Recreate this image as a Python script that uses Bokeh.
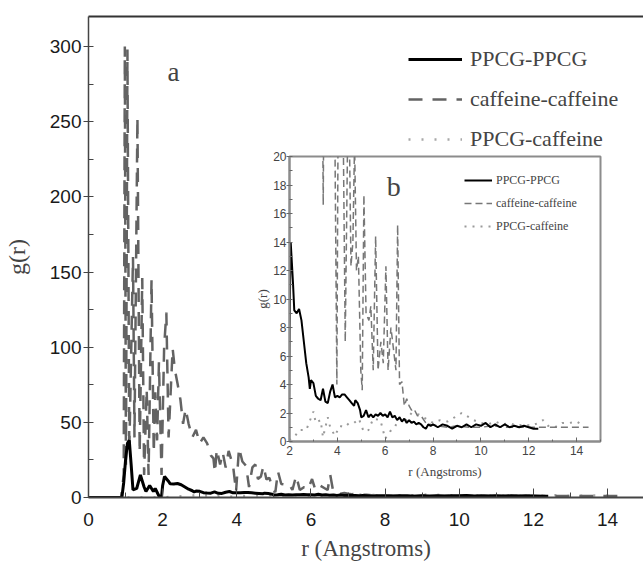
from bokeh.plotting import figure
from bokeh.layouts import column
from bokeh.models import (Range1d, Legend, LegendItem, Label, GridBox, LinearAxis,
                          FixedTicker, SingleIntervalTicker)
from bokeh.embed import file_html
from bokeh.resources import INLINE

# ---------------- data ----------------
r_pp = [0.0, 0.9, 0.95, 1.0, 1.05, 1.1, 1.15, 1.2, 1.3, 1.4, 1.5, 1.55, 1.65, 1.75, 1.8,
        1.9, 1.97, 2.0, 2.05, 2.1, 2.15, 2.2, 2.3, 2.4, 2.5, 2.6, 2.7, 2.8, 2.85, 2.9,
        3.0, 3.1, 3.2, 3.3, 3.4, 3.5, 3.6, 3.7, 3.8, 3.9, 4.0, 4.1, 4.2, 4.3, 4.4, 4.5,
        4.6, 4.7, 4.75, 4.85, 4.95, 5.0, 5.1, 5.2, 5.3, 5.4, 5.5, 5.6, 5.7, 5.8, 5.9,
        6.0, 6.1, 6.2, 6.3, 6.4, 6.5, 6.6, 6.7, 6.8, 6.9, 7.0, 7.1, 7.2, 7.3, 7.4, 7.5,
        7.6, 7.7, 7.8, 7.9, 8.0, 8.2, 8.4, 8.6, 8.8, 9.0, 9.2, 9.4, 9.6, 9.8, 10.0, 10.2,
        10.4, 10.6, 10.8, 11.0, 11.2, 11.4, 11.6, 11.8, 12.0, 12.2, 12.4]
g_pp = [0.0, 0.0, 10, 25, 36, 38, 22, 5, 6, 15, 7, 4, 8, 4, 6,
        1, 0.5, 8, 14, 12.5, 11, 9.2, 9.0, 9.3, 8.5, 7.0, 5.5, 4.5, 3.7, 4.3,
        4.1, 3.2, 3.0, 2.9, 3.7, 2.8, 2.7, 3.5, 4.0, 3.1, 3.2, 3.1, 3.3, 3.3, 3.1, 2.9,
        2.7, 2.5, 2.9, 2.7, 2.2, 1.7, 1.8, 2.2, 1.7, 1.9, 1.7, 1.9, 1.8, 2.0, 1.8,
        1.9, 1.7, 2.1, 1.7, 1.8, 1.5, 1.7, 1.4, 1.6, 1.3, 1.5, 1.3, 1.4, 1.2, 1.3, 1.2,
        1.0, 0.9, 1.2, 1.1, 1.2, 1.0, 1.2, 1.1, 0.9, 1.1, 1.0, 1.2, 1.0, 1.2, 1.1, 1.3,
        1.0, 1.2, 1.0, 1.2, 1.0, 1.1, 1.0, 1.1, 1.0, 0.9, 0.9]

r_cc = [0.0, 0.88, 0.95, 0.98, 1.01, 1.05, 1.1, 1.2, 1.24, 1.32, 1.38, 1.45, 1.5, 1.57,
        1.62, 1.7, 1.76, 1.8, 1.85, 1.9, 1.97, 2.04, 2.1, 2.16, 2.27, 2.33, 2.4, 2.48,
        2.55, 2.62, 2.7, 2.8, 2.9, 3.0, 3.1, 3.2, 3.3, 3.37, 3.41, 3.46, 3.55, 3.62, 3.7,
        3.78, 3.9, 3.98, 4.06, 4.15, 4.25, 4.33, 4.42, 4.5, 4.57, 4.65, 4.72, 4.8, 4.88,
        4.98, 5.04, 5.11, 5.2, 5.32, 5.4, 5.5, 5.6, 5.7, 5.82, 5.92, 6.03, 6.12, 6.24,
        6.38, 6.45, 6.52, 6.6, 6.7, 6.8, 6.9, 7.0, 7.1, 7.2, 7.35, 7.5, 7.7, 7.9, 8.2,
        8.6, 9.0, 9.5, 10.0, 10.5, 11.0, 11.5, 12.0, 12.5, 13.0, 13.5, 14.0, 14.5]
g_cc = [0.0, 0.0, 15, 300, 20, 298, 30, 160, 40, 253, 30, 146, 15, 72,
        15, 145, 30, 70, 38, 90, 15, 100, 123, 40, 99, 85, 76, 65,
        49, 59, 49, 40, 45, 36, 40, 36, 28, 26, 16.6, 32, 22, 30, 20,
        31, 21, 4.0, 33, 24, 21, 7.0, 20, 22, 12.3, 14, 21, 12, 13,
        5.0, 3.6, 17.3, 9.0, 8.5, 9.5, 5.0, 14.4, 5.0, 7.0, 5.5, 12.3, 5.0, 8.0,
        6.0, 5.0, 15.2, 4.0, 4.2, 2.5, 3.0, 2.5, 2.2, 2.3, 1.8, 1.8, 1.3, 1.2, 1.1,
        1.0, 1.1, 1.0, 1.0, 1.1, 1.0, 1.0, 1.0, 1.0, 1.0, 1.0, 1.0, 1.0]

r_pc = [0.0, 1.9, 2.2, 2.4, 2.7, 3.0, 3.1, 3.2, 3.3, 3.4, 3.6, 3.7, 3.9, 4.1, 4.3, 4.5,
        4.7, 4.9, 5.1, 5.3, 5.5, 5.8, 6.0, 6.2, 6.4, 6.6, 6.9, 7.1, 7.4, 7.7, 8.0, 8.3,
        8.6, 8.9, 9.2, 9.4, 9.7, 10.0, 10.3, 10.6, 10.9, 11.2, 11.5, 11.8, 12.1, 12.4,
        12.6, 12.8, 13.1, 13.4, 13.7, 14.0, 14.3]
g_pc = [0.0, 0.0, 0.3, 0.8, 0.8, 2.1, 1.3, 1.4, 1.5, 0.3, 1.7, 1.0, 0.4, 1.1, 1.0, 1.3,
        1.3, 1.6, 0.7, 0.8, 1.6, 1.5, 0.2, 0.7, 1.0, 1.7, 1.5, 2.0, 1.9, 1.6, 1.3, 1.5,
        1.4, 1.7, 2.0, 1.8, 1.5, 1.3, 1.2, 1.4, 1.2, 1.3, 1.1, 1.2, 1.1, 1.3,
        1.5, 1.1, 1.0, 1.3, 1.3, 1.4, 1.1]

names = ["PPCG-PPCG", "caffeine-caffeine", "PPCG-caffeine"]

SERIF = "Liberation Serif"
SANS = "Liberation Sans"

# ---------------- main plot ----------------
p = figure(width=643, height=569, output_backend="svg", toolbar_location=None,
           x_range=Range1d(0, 14.97), y_range=Range1d(0, 320),
           min_border_left=87, min_border_right=0, min_border_top=16,
           min_border_bottom=72)
p.outline_line_color = None
p.grid.visible = False
p.background_fill_color = "white"
p.border_fill_color = "white"

top = LinearAxis(ticker=FixedTicker(ticks=[]), axis_line_color="#333333",
                 axis_line_width=2, major_label_text_font_size="0px",
                 major_tick_line_color=None, minor_tick_line_color=None)
p.add_layout(top, "above")

xa = p.below[0]
xa.ticker = SingleIntervalTicker(interval=2, num_minor_ticks=2)
xa.axis_label = "r (Angstroms)"
xa.axis_label_text_font = SERIF
xa.axis_label_text_font_style = "normal"
xa.axis_label_text_font_size = "23px"
xa.axis_label_standoff = 7
xa.major_label_text_font = SANS
xa.major_label_text_font_size = "19px"
xa.major_label_text_color = "#1a1a1a"
xa.major_label_standoff = 15
xa.major_tick_in = 9
xa.major_tick_out = 0
xa.minor_tick_in = 5
xa.minor_tick_out = 0
xa.axis_line_color = "#444444"
xa.axis_line_width = 2
xa.major_tick_line_color = "#444444"
xa.minor_tick_line_color = "#444444"

ya = p.left[0]
ya.ticker = SingleIntervalTicker(interval=50, num_minor_ticks=2)
ya.axis_label = "g(r)"
ya.axis_label_text_font = SERIF
ya.axis_label_text_font_style = "normal"
ya.axis_label_text_font_size = "24px"
ya.axis_label_standoff = 17
ya.major_label_text_font = SANS
ya.major_label_text_font_size = "19px"
ya.major_label_text_color = "#1a1a1a"
ya.major_label_standoff = 2
ya.major_tick_in = 0
ya.major_tick_out = 5
ya.minor_tick_in = 5
ya.minor_tick_out = 0
ya.axis_line_color = "#444444"
ya.axis_line_width = 1.5
ya.major_tick_line_color = "#444444"
ya.minor_tick_line_color = "#444444"

l_pc = p.line(r_pc, g_pc, line_color="#a8a8a8", line_width=2.5, line_dash="2 11")
l_cc = p.line(r_cc, g_cc, line_color="#636363", line_width=2.5, line_dash="14 10")
l_pp = p.line(r_pp, g_pp, line_color="black", line_width=3)

leg = Legend(items=[LegendItem(label=names[0], renderers=[l_pp]),
                    LegendItem(label=names[1], renderers=[l_cc]),
                    LegendItem(label=names[2], renderers=[l_pc])],
             location=(320, 343), padding=0, margin=0, spacing=10,
             glyph_width=54, glyph_height=30, label_height=30, label_standoff=8,
             label_text_font=SERIF, label_text_font_size="22px",
             background_fill_alpha=0, border_line_color=None)
p.add_layout(leg)

p.add_layout(Label(x=2.29, y=283, text="a", text_font=SERIF, text_font_size="27px",
                   text_align="center", text_baseline="middle"))

# ---------------- inset ----------------
ins = figure(width=351, height=333, output_backend="svg", toolbar_location=None,
             x_range=Range1d(2, 15), y_range=Range1d(0, 20),
             min_border_left=34, min_border_right=3, min_border_top=8,
             min_border_bottom=40)
ins.grid.visible = False
ins.background_fill_color = "white"
ins.border_fill_color = None
ins.outline_line_color = "#8c8c8c"
ins.outline_line_width = 2

ixa = ins.xaxis[0]
ixa.ticker = SingleIntervalTicker(interval=2, num_minor_ticks=2)
ixa.axis_label = "r (Angstroms)"
ixa.axis_label_text_font = SERIF
ixa.axis_label_text_font_style = "normal"
ixa.axis_label_text_font_size = "13px"
ixa.axis_label_standoff = 6
ixa.major_label_text_font = SANS
ixa.major_label_text_font_size = "12px"
ixa.major_label_standoff = 4
ixa.major_tick_in = 4
ixa.major_tick_out = 0
ixa.minor_tick_in = 2
ixa.minor_tick_out = 0
iya = ins.yaxis[0]
iya.ticker = SingleIntervalTicker(interval=2, num_minor_ticks=2)
iya.axis_label = "g(r)"
iya.axis_label_text_font = SERIF
iya.axis_label_text_font_style = "normal"
iya.axis_label_text_font_size = "13px"
iya.axis_label_standoff = 0
iya.major_label_text_font = SANS
iya.major_label_text_font_size = "12px"
iya.major_label_standoff = 0
iya.major_tick_in = 0
iya.major_tick_out = 3
iya.minor_tick_in = 3
iya.minor_tick_out = 0
for ax in (ixa, iya):
    ax.axis_line_color = "#8c8c8c"
    ax.axis_line_width = 2
    ax.major_tick_line_color = "#666666"
    ax.minor_tick_line_color = "#666666"

i_pc = ins.line(r_pc, g_pc, line_color="#9a9a9a", line_width=2, line_dash="2 6")
i_cc = ins.line(r_cc, g_cc, line_color="#777777", line_width=1.5, line_dash="7 4")
i_pp = ins.line(r_pp, g_pp, line_color="black", line_width=2)

ileg = Legend(items=[LegendItem(label=names[0], renderers=[i_pp]),
                     LegendItem(label=names[1], renderers=[i_cc]),
                     LegendItem(label=names[2], renderers=[i_pc])],
              location=(175, 205), padding=0, margin=0, spacing=3,
              glyph_width=28, glyph_height=20, label_height=20, label_standoff=4,
              label_text_font=SERIF, label_text_font_size="12px",
              background_fill_alpha=0, border_line_color=None)
ins.add_layout(ileg)

ins.add_layout(Label(x=6.36, y=17.9, text="b", text_font=SERIF, text_font_size="28px",
                     text_align="center", text_baseline="middle"))

inset_box = column(ins)
inset_box.margin = (148, 0, 0, 252)
layout = GridBox(children=[(p, 0, 0), (inset_box, 0, 0)])

open("out.html", "w").write(file_html(layout, INLINE))
